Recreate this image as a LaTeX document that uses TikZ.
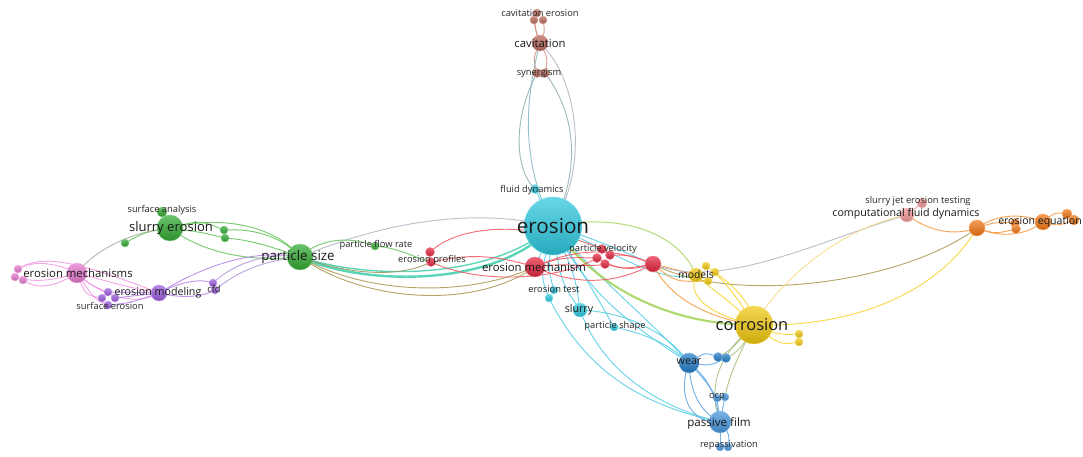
\documentclass[tikz,border=0pt]{standalone}
\usepackage{fontspec}
\setmainfont{Open Sans}
\usepackage{xcolor}
\usetikzlibrary{positioning}

\definecolor{cyanN}{RGB}{45,200,222}
\definecolor{redN}{RGB}{228,38,62}
\definecolor{greenN}{RGB}{50,170,50}
\definecolor{pinkN}{RGB}{228,120,205}
\definecolor{purpleN}{RGB}{155,90,220}
\definecolor{yellowN}{RGB}{240,200,15}
\definecolor{blueN}{RGB}{35,125,200}
\definecolor{lblueN}{RGB}{70,150,222}
\definecolor{brownN}{RGB}{185,105,90}
\definecolor{salmonN}{RGB}{242,150,150}
\definecolor{orangeN}{RGB}{240,118,20}

\definecolor{cyanE}{RGB}{80,205,228}
\definecolor{tealE}{RGB}{60,205,170}
\definecolor{redE}{RGB}{240,85,95}
\definecolor{greenE}{RGB}{95,195,85}
\definecolor{pinkE}{RGB}{240,150,225}
\definecolor{purpleE}{RGB}{180,130,232}
\definecolor{yellowE}{RGB}{245,210,40}
\definecolor{blueE}{RGB}{95,165,225}
\definecolor{brownE}{RGB}{210,145,130}
\definecolor{orangeE}{RGB}{245,150,60}
\definecolor{oliveE}{RGB}{170,150,80}
\definecolor{limeE}{RGB}{160,210,85}
\definecolor{greyE}{RGB}{175,180,195}
\definecolor{sageE}{RGB}{165,190,120}

\tikzset{
  edge/.style={line width=0.7pt, opacity=0.85},
  bub/.style={top color=#1!72!white, bottom color=#1!85!black, draw=#1!60!white, line width=0.3pt},
  kwsmall/.style={font=\fontsize{7}{8}\selectfont, text=black!85, inner sep=0pt},
  kwmid/.style={font=\fontsize{8.5}{10}\selectfont, text=black!90, inner sep=0pt},
}

\begin{document}
\begin{tikzpicture}[x=0.75pt,y=-0.75pt]
\useasboundingbox (0,0) rectangle (1083,457);

% cluster centres
\coordinate (cave1) at (537,13);
\coordinate (cave2) at (534,20);
\coordinate (cave3) at (543,20);
\coordinate (cav) at (540,43);
\coordinate (syn1) at (537,73);
\coordinate (syn2) at (545,73);
\coordinate (ero) at (553,226);
\coordinate (flu) at (535,189);
\coordinate (etest1) at (549,298);
\coordinate (etest2) at (554,290);
\coordinate (slu) at (580,310);
\coordinate (pshape) at (614,327);
\coordinate (emech) at (535,267);
\coordinate (pvel1) at (597,258);
\coordinate (pvel2) at (602,249);
\coordinate (pvel3) at (605,264);
\coordinate (pvel4) at (610,255);
\coordinate (redbig) at (653,264);
\coordinate (eprof1) at (430,252);
\coordinate (eprof2) at (431,262);
\coordinate (psize) at (300,257);
\coordinate (pflow) at (375,246);
\coordinate (serosion) at (170,228);
\coordinate (sanal) at (162,212);
\coordinate (gsmall) at (125,243);
\coordinate (g1) at (224,230);
\coordinate (g2) at (225,238);
\coordinate (emechs) at (77,273);
\coordinate (pk1) at (18,269);
\coordinate (pk2) at (15,277);
\coordinate (pk3) at (23,280);
\coordinate (emod) at (159,293);
\coordinate (cfd1) at (213,283);
\coordinate (cfd2) at (215,290);
\coordinate (se1) at (108,292);
\coordinate (se2) at (102,298);
\coordinate (se3) at (115,298);
\coordinate (se4) at (108,305);
\coordinate (corr) at (754,325);
\coordinate (mod) at (696,275);
\coordinate (mod2) at (706,266);
\coordinate (mod3) at (715,272);
\coordinate (mod4) at (708,281);
\coordinate (y1) at (799,334);
\coordinate (y2) at (799,342);
\coordinate (wear) at (689,363);
\coordinate (b1) at (718,357);
\coordinate (b2) at (726,358);
\coordinate (ocp1) at (717,398);
\coordinate (ocp2) at (725,397);
\coordinate (pfilm) at (720,422);
\coordinate (rep1) at (720,447);
\coordinate (rep2) at (728,447);
\coordinate (cfdyn) at (907,215);
\coordinate (sjet) at (922,203);
\coordinate (obig) at (977,228);
\coordinate (o1) at (1015,223);
\coordinate (o2) at (1016,229);
\coordinate (eeq) at (1043,222);
\coordinate (o3) at (1067,214);
\coordinate (o4) at (1074,220);

% links
\draw[edge,brownE] (cave1) .. controls (534,25) .. (cav);
\draw[edge,brownE] (cave2) .. controls (536,32) .. (cav);
\draw[edge,brownE] (cave3) .. controls (545,32) .. (cav);
\draw[edge,brownE] (cav) .. controls (533,58) .. (syn1);
\draw[edge,brownE] (cav) .. controls (548,58) .. (syn2);
\draw[edge,brownE!50!cyanE] (syn1) .. controls (512,120) and (515,170) .. (flu);
\draw[edge,brownE!50!cyanE] (syn2) .. controls (580,120) and (578,175) .. (ero);
\draw[edge,greyE] (cav) .. controls (575,75) and (592,160) .. (ero);
\draw[edge,brownE!40!cyanE] (cav) .. controls (525,100) and (520,160) .. (ero);

\draw[edge,cyanE] (ero) -- (flu);
\draw[edge,tealE,line width=1.8pt] (ero) .. controls (495,290) and (360,285) .. (psize);
\draw[edge,tealE,line width=1pt] (ero) .. controls (490,280) and (370,280) .. (psize);
\draw[edge,greyE] (psize) .. controls (370,228) and (460,205) .. (ero);
\draw[edge,cyanE] (ero) -- (emech);
\draw[edge,cyanE] (ero) .. controls (548,270) .. (etest2);
\draw[edge,cyanE] (ero) .. controls (540,275) .. (etest1);
\draw[edge,cyanE] (ero) .. controls (560,280) .. (slu);
\draw[edge,cyanE] (ero) .. controls (575,275) .. (slu);
\draw[edge,cyanE] (ero) .. controls (590,285) .. (pshape);
\draw[edge,cyanE] (ero) .. controls (590,300) and (640,330) .. (wear);
\draw[edge,cyanE] (ero) .. controls (610,290) and (650,320) .. (wear);
\draw[edge,cyanE] (slu) .. controls (630,312) and (670,335) .. (wear);
\draw[edge,cyanE] (pshape) .. controls (650,335) and (670,345) .. (wear);
\draw[edge,cyanE] (slu) .. controls (600,365) and (650,405) .. (pfilm);
\draw[edge,cyanE] (etest1) .. controls (585,370) and (640,405) .. (pfilm);
\draw[edge,cyanE] (ero) .. controls (600,240) and (630,255) .. (redbig);
\draw[edge,cyanE] (ero) .. controls (610,250) and (660,285) .. (mod);
\draw[edge,limeE] (ero) .. controls (625,212) and (680,235) .. (mod);
\draw[edge,limeE,line width=1.6pt] (ero) .. controls (600,295) and (680,325) .. (corr);

\draw[edge,oliveE] (emech) .. controls (470,312) and (360,300) .. (psize);
\draw[edge,oliveE] (emech) .. controls (460,300) and (360,292) .. (psize);
\draw[edge,redE] (emech) .. controls (480,250) and (455,258) .. (eprof2);
\draw[edge,redE] (eprof1) .. controls (470,215) and (560,230) .. (pvel2);
\draw[edge,redE] (eprof2) .. controls (480,285) and (560,280) .. (pvel1);
\draw[edge,redE] (emech) .. controls (560,255) and (580,258) .. (pvel1);
\draw[edge,redE] (emech) .. controls (565,262) and (590,268) .. (pvel3);
\draw[edge,redE] (emech) .. controls (580,288) and (620,282) .. (redbig);
\draw[edge,redE] (emech) .. controls (580,245) and (620,250) .. (redbig);
\draw[edge,redE] (pvel1) .. controls (620,270) .. (redbig);
\draw[edge,redE] (pvel4) .. controls (630,255) .. (redbig);
\draw[edge,redE] (pvel3) .. controls (630,270) .. (redbig);
\draw[edge,orangeE] (redbig) .. controls (670,268) .. (mod);
\draw[edge,orangeE] (redbig) .. controls (675,282) .. (mod4);
\draw[edge,orangeE] (redbig) .. controls (670,300) and (710,318) .. (corr);
\draw[edge,oliveE] (redbig) .. controls (730,305) and (900,285) .. (obig);
\draw[edge,greyE] (redbig) .. controls (720,292) and (820,240) .. (cfdyn);

\draw[edge,greenE] (serosion) -- (sanal);
\draw[edge,greenE] (serosion) .. controls (145,232) .. (gsmall);
\draw[edge,greenE] (serosion) .. controls (200,220) .. (g1);
\draw[edge,greenE] (serosion) .. controls (200,232) .. (g2);
\draw[edge,greenE] (serosion) .. controls (205,255) and (255,262) .. (psize);
\draw[edge,greenE] (serosion) .. controls (220,215) and (275,225) .. (psize);
\draw[edge,greenE] (g1) .. controls (260,228) and (285,240) .. (psize);
\draw[edge,greenE] (g2) .. controls (255,240) and (280,250) .. (psize);
\draw[edge,greenE] (psize) .. controls (320,238) and (350,236) .. (pflow);
\draw[edge,greenE] (pflow) .. controls (400,248) and (415,258) .. (eprof2);
\draw[edge,greenE!60!redE] (psize) .. controls (350,275) and (400,278) .. (eprof2);
\draw[edge,greenE!50!pinkE] (emechs) .. controls (95,250) and (130,232) .. (serosion);

\draw[edge,pinkE] (emechs) .. controls (50,260) and (30,262) .. (pk1);
\draw[edge,pinkE] (emechs) .. controls (50,282) and (30,282) .. (pk2);
\draw[edge,pinkE] (emechs) .. controls (50,290) and (35,288) .. (pk3);
\draw[edge,pinkE] (pk1) .. controls (40,255) and (70,258) .. (emod);
\draw[edge,pinkE] (emechs) .. controls (110,282) and (130,288) .. (emod);
\draw[edge,pinkE] (emechs) .. controls (105,300) and (140,305) .. (emod);
\draw[edge,pinkE] (emechs) .. controls (90,285) .. (se1);
\draw[edge,pinkE] (emechs) .. controls (85,295) .. (se2);
\draw[edge,pinkE] (emechs) .. controls (95,300) .. (se4);

\draw[edge,purpleE] (se1) -- (emod);
\draw[edge,purpleE] (se3) -- (emod);
\draw[edge,purpleE] (se4) .. controls (130,303) .. (emod);
\draw[edge,purpleE] (emod) .. controls (180,282) and (200,278) .. (cfd1);
\draw[edge,purpleE] (emod) .. controls (180,298) and (200,298) .. (cfd2);
\draw[edge,purpleE] (emod) .. controls (200,268) and (250,248) .. (psize);
\draw[edge,purpleE!60!greyE] (cfd1) .. controls (235,262) and (270,252) .. (psize);
\draw[edge,purpleE!60!greyE] (cfd2) .. controls (245,265) and (275,260) .. (psize);

\draw[edge,yellowE] (corr) .. controls (730,300) and (712,290) .. (mod);
\draw[edge,yellowE] (corr) .. controls (700,312) and (688,292) .. (mod);
\draw[edge,yellowE] (corr) .. controls (752,300) and (728,282) .. (mod3);
\draw[edge,yellowE] (corr) .. controls (740,300) and (720,275) .. (mod2);
\draw[edge,yellowE] (corr) .. controls (780,335) .. (y1);
\draw[edge,yellowE] (corr) .. controls (780,345) .. (y2);
\draw[edge,yellowE] (corr) .. controls (880,328) and (950,275) .. (obig);
\draw[edge,yellowE!70!orangeE!60!white] (corr) .. controls (780,280) and (840,228) .. (cfdyn);
\draw[edge,sageE] (corr) .. controls (740,340) and (730,352) .. (b1);
\draw[edge,sageE] (corr) .. controls (745,345) and (735,355) .. (b2);
\draw[edge,sageE] (corr) .. controls (735,362) and (728,380) .. (ocp2);
\draw[edge,sageE] (corr) .. controls (725,350) and (705,380) .. (pfilm);

\draw[edge,blueE] (wear) .. controls (705,352) .. (b1);
\draw[edge,blueE] (wear) .. controls (710,366) .. (b2);
\draw[edge,blueE] (wear) .. controls (705,380) .. (ocp1);
\draw[edge,blueE] (wear) .. controls (690,392) and (700,412) .. (pfilm);
\draw[edge,blueE] (wear) .. controls (712,380) and (716,400) .. (pfilm);
\draw[edge,blueE] (wear) .. controls (675,400) and (695,425) .. (pfilm);
\draw[edge,blueE] (ocp2) -- (pfilm);
\draw[edge,blueE] (ocp1) -- (pfilm);
\draw[edge,blueE] (pfilm) -- (rep1);
\draw[edge,blueE] (pfilm) .. controls (730,435) .. (rep2);

\draw[edge,salmonN] (cfdyn) -- (sjet);
\draw[edge,orangeE] (cfdyn) .. controls (930,232) and (955,236) .. (obig);
\draw[edge,orangeE] (obig) .. controls (995,215) and (1020,212) .. (eeq);
\draw[edge,orangeE] (obig) .. controls (1000,238) and (1025,236) .. (eeq);
\draw[edge,orangeE] (obig) .. controls (995,222) .. (o1);
\draw[edge,orangeE] (obig) .. controls (995,234) .. (o2);
\draw[edge,orangeE] (eeq) .. controls (1055,212) .. (o3);
\draw[edge,orangeE] (eeq) .. controls (1058,226) .. (o4);

% bubbles
\path[bub=brownN] (cave1) circle (4);
\path[bub=brownN] (cave2) circle (4);
\path[bub=brownN] (cave3) circle (4);
\path[bub=brownN] (cav) circle (8);
\path[bub=brownN] (syn1) circle (4.5);
\path[bub=brownN] (syn2) circle (4.5);
\path[bub=cyanN] (flu) circle (4.5);
\path[bub=cyanN] (ero) circle (29);
\path[bub=cyanN] (etest1) circle (4);
\path[bub=cyanN] (etest2) circle (4);
\path[bub=cyanN] (slu) circle (7);
\path[bub=cyanN] (pshape) circle (4);
\path[bub=redN] (emech) circle (10);
\path[bub=redN] (pvel1) circle (4.5);
\path[bub=redN] (pvel2) circle (4.5);
\path[bub=redN] (pvel3) circle (4.5);
\path[bub=redN] (pvel4) circle (4.5);
\path[bub=redN] (redbig) circle (8);
\path[bub=redN] (eprof1) circle (4.5);
\path[bub=redN] (eprof2) circle (4.5);
\path[bub=greenN] (psize) circle (13);
\path[bub=greenN] (pflow) circle (4);
\path[bub=greenN] (sanal) circle (5);
\path[bub=greenN] (serosion) circle (13);
\path[bub=greenN] (gsmall) circle (4);
\path[bub=greenN] (g1) circle (4);
\path[bub=greenN] (g2) circle (4);
\path[bub=pinkN] (emechs) circle (10);
\path[bub=pinkN] (pk1) circle (4);
\path[bub=pinkN] (pk2) circle (4);
\path[bub=pinkN] (pk3) circle (4);
\path[bub=purpleN] (emod) circle (8);
\path[bub=purpleN] (cfd1) circle (4);
\path[bub=purpleN] (cfd2) circle (4);
\path[bub=purpleN] (se1) circle (4);
\path[bub=purpleN] (se2) circle (4);
\path[bub=purpleN] (se3) circle (4);
\path[bub=purpleN] (se4) circle (4);
\path[bub=yellowN] (corr) circle (19);
\path[bub=yellowN] (mod) circle (7);
\path[bub=yellowN] (mod2) circle (4);
\path[bub=yellowN] (mod3) circle (4);
\path[bub=yellowN] (mod4) circle (4);
\path[bub=yellowN] (y1) circle (4);
\path[bub=yellowN] (y2) circle (4);
\path[bub=blueN] (wear) circle (10);
\path[bub=blueN] (b1) circle (4.5);
\path[bub=blueN] (b2) circle (4.5);
\path[bub=lblueN] (ocp1) circle (4);
\path[bub=lblueN] (ocp2) circle (4);
\path[bub=lblueN] (pfilm) circle (11);
\path[bub=lblueN] (rep1) circle (4);
\path[bub=lblueN] (rep2) circle (4);
\path[bub=salmonN] (cfdyn) circle (7);
\path[bub=salmonN] (sjet) circle (5);
\path[bub=orangeN] (obig) circle (8);
\path[bub=orangeN] (o1) circle (4.5);
\path[bub=orangeN] (o2) circle (4.5);
\path[bub=orangeN] (eeq) circle (8);
\path[bub=orangeN] (o3) circle (5);
\path[bub=orangeN] (o4) circle (5);

% labels
\node[kwsmall] (t-cave) at (540,13) {cavitation erosion};
\node[kwmid] (t-cav) at (540,43) {cavitation};
\node[kwsmall] (t-syn) at (539,73) {synergism};
\node[kwsmall] (t-flu) at (532,190) {fluid dynamics};
\node[inner sep=0pt, text=black!90, font=\fontsize{15.5}{18}\selectfont] (t-ero) at (553,226) {erosion};
\node[kwsmall] (t-etest) at (554,289) {erosion test};
\node[kwmid,font=\fontsize{8}{9}\selectfont] (t-slu) at (579,310) {slurry};
\node[kwsmall] (t-pshape) at (615,326) {particle shape};
\node[kwmid] (t-emech) at (534,267) {erosion mechanism};
\node[kwsmall] (t-pvel) at (603,249) {particle velocity};
\node[kwsmall] (t-eprof) at (432,260) {erosion profiles};
\node[kwmid,font=\fontsize{10}{12}\selectfont] (t-psize) at (298,257) {particle size};
\node[kwsmall] (t-pflow) at (376,245) {particle flow rate};
\node[kwmid,font=\fontsize{9.8}{12}\selectfont] (t-serosion) at (171,228) {slurry erosion};
\node[kwsmall] (t-sanal) at (162,210) {surface analysis};
\node[kwmid] (t-emechs) at (78,273) {erosion mechanisms};
\node[kwmid,font=\fontsize{8}{9}\selectfont] (t-emod) at (158,293) {erosion modeling};
\node[kwsmall] (t-cfd) at (214,289) {cfd};
\node[kwsmall] (t-se) at (110,306) {surface erosion};
\node[kwmid,font=\fontsize{12.3}{14}\selectfont] (t-corr) at (752,325) {corrosion};
\node[kwmid,font=\fontsize{7.8}{9}\selectfont] (t-mod) at (696,275) {models};
\node[kwmid,font=\fontsize{8}{9}\selectfont] (t-wear) at (689,362) {wear};
\node[kwsmall] (t-ocp) at (717,397) {ocp};
\node[kwmid,font=\fontsize{8.7}{10}\selectfont] (t-pfilm) at (719,423) {passive film};
\node[kwsmall] (t-rep) at (729,445) {repassivation};
\node[kwmid,font=\fontsize{8}{9}\selectfont] (t-cfdyn) at (906,214) {computational fluid dynamics};
\node[kwsmall] (t-sjet) at (918,201) {slurry jet erosion testing};
\node[kwmid,font=\fontsize{7.9}{9}\selectfont] (t-eeq) at (1040,222) {erosion equation};
\end{tikzpicture}
\end{document}
